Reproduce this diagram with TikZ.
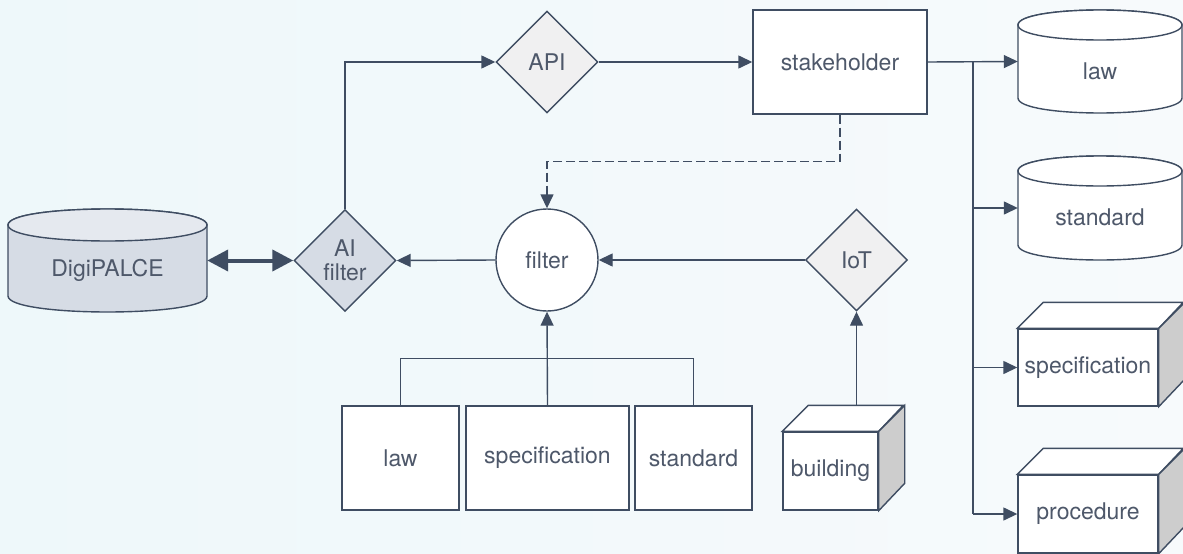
\documentclass[tikz,border=0pt]{standalone}
\usepackage{fontspec}
\setmainfont{TeX Gyre Heros}
\usetikzlibrary{arrows.meta,shapes.geometric,calc}

\definecolor{ink}{RGB}{63,77,98}
\definecolor{txtc}{RGB}{78,88,106}
\definecolor{dbfill}{RGB}{214,220,229}
\definecolor{dbtop}{RGB}{229,233,239}
\definecolor{gatefill}{RGB}{240,240,241}
\definecolor{sidefill}{RGB}{205,205,205}
\definecolor{bgl}{RGB}{238,248,250}
\definecolor{bgr}{RGB}{247,250,252}

% upright cylinder: left x, right x, top-ellipse y, bottom-ellipse y, half height of the ellipses, body colour, lid colour
\newcommand\mycyl[7]{%
  \filldraw[line,fill=#6] (#1,#3) -- (#1,#4)
    .. controls (#1,#4+1.333*#5) and (#2,#4+1.333*#5) .. (#2,#4) -- (#2,#3)
    .. controls (#2,#3-1.333*#5) and (#1,#3-1.333*#5) .. (#1,#3) -- cycle;
  \filldraw[line,fill=#7] (#1,#3)
    .. controls (#1,#3+1.333*#5) and (#2,#3+1.333*#5) .. (#2,#3)
    .. controls (#2,#3-1.333*#5) and (#1,#3-1.333*#5) .. (#1,#3) -- cycle;
}

\begin{document}
\begin{tikzpicture}[x=1pt,y=-1pt,
  line/.style={draw=ink,line width=1.4pt},
  arr/.style={line,-{Triangle[length=14pt,width=13pt]}},
  lbl/.style={text=txtc,font=\fontsize{23}{28}\selectfont},
  box/.style={rectangle,line,fill=white,lbl,inner sep=0pt},
  gate/.style={diamond,line,fill=gatefill,lbl,align=center,
    minimum width=102pt,minimum height=102pt,inner sep=0pt},
  hole/.style={rectangle,draw=none,inner sep=0pt}]

\useasboundingbox (0,0) rectangle (1183,554);
\shade[left color=bgl,right color=bgr] (0,0) rectangle (1183,554);

% database cylinders
\mycyl{8}{207}{225}{296}{16}{dbfill}{dbtop}
\mycyl{1018}{1182}{25}{98}{15}{white}{white}
\mycyl{1018}{1182}{171}{245}{15}{white}{white}

\node[hole,minimum width=199pt,minimum height=104pt,
  label={[lbl,yshift=-9.5pt]center:DigiPALCE}] (digi) at (107.5,260.5) {};
\node[hole,minimum width=164pt,minimum height=103pt,
  label={[lbl,yshift=-10pt]center:law}] (lawc) at (1100,61.5) {};
\node[hole,minimum width=164pt,minimum height=104pt,
  label={[lbl,yshift=-9pt]center:standard}] (stdc) at (1100,208) {};

% gates
\node[gate,fill=dbfill] (ai) at (345,260.5) {AI\\[-4pt]filter};
\node[gate] (api) at (547,62) {API};
\node[gate] (iot) at (856.5,260) {IoT};

% plain boxes
\node[box,minimum width=174pt,minimum height=104pt] (stake) at (840,62) {stakeholder};
\node[circle,line,fill=white,lbl,minimum size=102pt,inner sep=0pt] (filter) at (547,260) {filter};
\node[box,minimum width=117pt,minimum height=104pt] (lawB) at (400.5,458) {law};
\node[box,minimum width=163pt,minimum height=104pt] (specB) at (547.5,458) {specification};
\node[box,minimum width=117pt,minimum height=104pt] (stdB) at (693.5,458) {standard};

% 3-D boxes
\node[box,minimum width=140pt,minimum height=77pt] (specR) at (1088,367.5) {specification};
\node[box,minimum width=140pt,minimum height=78pt] (procR) at (1088,514) {procedure};
\node[box,minimum width=95pt,minimum height=78pt] (bld) at (830.5,471) {building};
\foreach \n/\w/\h in {specR/140/77,procR/140/78,bld/95/78}{
  \filldraw[line,fill=white] (\n.north west) -- ++(26,-26) -- ++(\w,0) -- (\n.north east) -- cycle;
  \filldraw[line,fill=sidefill] (\n.north east) -- ++(26,-26) -- ++(0,\h) -- (\n.south east) -- cycle;
}

% connectors
\draw[draw=ink,line width=4pt,
  {Triangle[length=21pt,width=21pt]}-{Triangle[length=21pt,width=21pt]}] (digi.east) -- (ai.west);
\draw[arr] (ai.north) |- (api.west);
\draw[arr] (api.east) -- (stake.west);
\draw[arr] (stake.east) -- (lawc.west);
\coordinate (bus) at (973,62);
\draw[draw=ink,line width=2pt] (bus) -- (bus |- procR.west);
\draw[arr] (bus |- stdc.west) -- (stdc.west);
\draw[arr] (bus |- specR.west) -- (specR.west);
\draw[arr] (bus |- procR.west) -- (procR.west);
\draw[arr,dash pattern=on 9pt off 4pt] (stake.south) -- ++(0,47) -| (filter.north);
\draw[arr] (filter.west) -- (ai.east);
\draw[arr] (iot.west) -- (filter.east);
\coordinate (bldtop) at ($(bld.north)+(26,-26)$);
\draw[arr] (bldtop) -- (iot.south);
\draw[line] (lawB.north) -- ++(0,-47) -| (stdB.north);
\draw[arr] (specB.north) -- (filter.south);

\end{tikzpicture}
\end{document}
